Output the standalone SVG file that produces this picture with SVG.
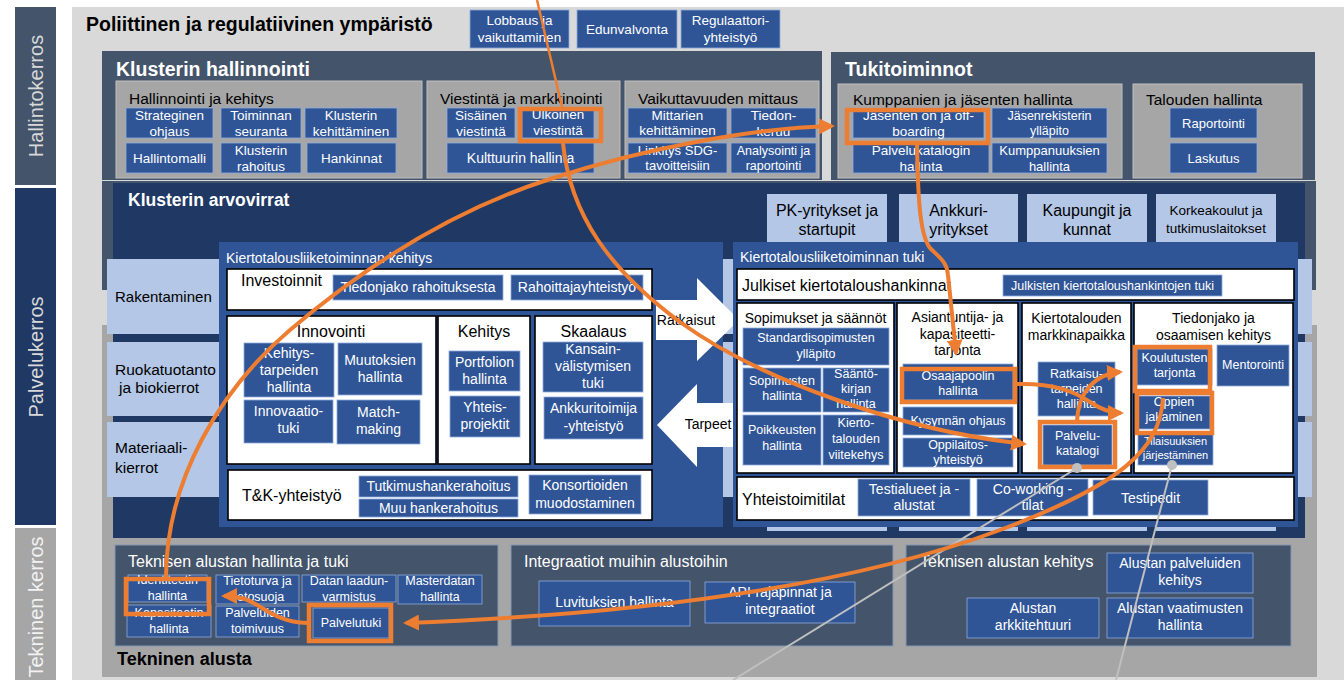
<svg xmlns="http://www.w3.org/2000/svg" width="1344" height="680" viewBox="0 0 1344 680">
<defs>
<style>
text{font-family:"Liberation Sans",Arial,Helvetica,sans-serif}
.w{fill:#fff}
.k{fill:#000}
.c{text-anchor:middle}
.b{font-weight:bold}
.slate{fill:#44546a}
.pan{fill:#44546a;stroke:#8497b0;stroke-width:1}
.sub{fill:#a6a6a6;stroke:#bfbfbf;stroke-width:1}
.bb{fill:#2f5597;stroke:#8faadc;stroke-width:0.8}
.wb{fill:#fff;stroke:#000;stroke-width:1.6}
.lb{fill:#b4c7e7}
.hl{fill:none;stroke:#ed7d31;stroke-width:4.5}
.oc{fill:none;stroke:#ed7d31;stroke-width:4;marker-end:url(#ah)}
.gc{fill:none;stroke:#bfbfbf;stroke-width:2}
.f11{font-size:11px}
.f125{font-size:12.5px}
.f13{font-size:13px}
.f135{font-size:13.5px}
.f14{font-size:14px}
.f15{font-size:15px}
.f155{font-size:15.5px}
.f16{font-size:16px}
</style>
<marker id="ah" viewBox="0 0 16 16" refX="13" refY="8" markerWidth="16" markerHeight="16" markerUnits="userSpaceOnUse" orient="auto"><path d="M0,0 L16,8 L0,16 Z" fill="#ed7d31"/></marker>
</defs>

<rect x="0" y="0" width="1344" height="680" fill="#fff"/>
<rect x="72" y="7" width="1272" height="673" fill="#d9d9d9"/>

<g id="layer-hallinto"><rect x="15" y="7" width="41" height="178" fill="#44546a"/><text transform="translate(43,96) rotate(-90)" class="c" font-size="20" fill="#d9d9d9">Hallintokerros</text></g>
<g id="layer-palvelu"><rect x="15" y="188" width="41" height="337" fill="#203864"/><text transform="translate(43,357) rotate(-90)" class="c" font-size="20" fill="#d9d9d9">Palvelukerros</text></g>
<g id="layer-tekninen"><rect x="15" y="528" width="41" height="152" fill="#a6a6a6"/><text transform="translate(43,607) rotate(-90)" class="c" font-size="20" fill="#f2f2f2">Tekninen kerros</text></g>

<g id="poliittinen">
<text x="86" y="31" class="k b" font-size="19.5">Poliittinen ja regulatiivinen ympäristö</text>
<g id="lobbaus"><rect x="470" y="10" width="99" height="38" class="bb"/><text class="w c f135"><tspan x="519.5" y="25">Lobbaus ja</tspan><tspan x="519.5" y="42">vaikuttaminen</tspan></text></g>
<g id="edunvalvonta"><rect x="577" y="10" width="100" height="38" class="bb"/><text class="w c f135" x="627" y="34">Edunvalvonta</text></g>
<g id="regulaattori"><rect x="681" y="10" width="99" height="38" class="bb"/><text class="w c f135"><tspan x="730.5" y="25">Regulaattori-</tspan><tspan x="730.5" y="42">yhteistyö</tspan></text></g>
</g>

<g id="klusterin-hallinnointi">
<rect x="102" y="51" width="720" height="129" class="slate"/>
<text x="116" y="76" class="w b" font-size="19.5">Klusterin hallinnointi</text>
<g id="hallinnointi-ja-kehitys">
<rect x="116" y="81" width="306" height="97" class="sub"/>
<text x="129" y="104" class="k f155">Hallinnointi ja kehitys</text>
<g id="strateginen"><rect x="126" y="108" width="87" height="30" class="bb"/><text class="w c f135"><tspan x="169.5" y="120">Strateginen</tspan><tspan x="169.5" y="136">ohjaus</tspan></text></g>
<g id="toiminnan"><rect x="221" y="108" width="80" height="30" class="bb"/><text class="w c f135"><tspan x="261" y="120">Toiminnan</tspan><tspan x="261" y="136">seuranta</tspan></text></g>
<g id="klusterin-kehittaminen"><rect x="305" y="108" width="92" height="30" class="bb"/><text class="w c f135"><tspan x="351" y="120">Klusterin</tspan><tspan x="351" y="136">kehittäminen</tspan></text></g>
<g id="hallintomalli"><rect x="126" y="143" width="87" height="30" class="bb"/><text class="w c f135" x="169.5" y="163">Hallintomalli</text></g>
<g id="klusterin-rahoitus"><rect x="221" y="143" width="80" height="30" class="bb"/><text class="w c f135"><tspan x="261" y="155">Klusterin</tspan><tspan x="261" y="171">rahoitus</tspan></text></g>
<g id="hankinnat"><rect x="307" y="143" width="89" height="30" class="bb"/><text class="w c f135" x="351.5" y="163">Hankinnat</text></g>
</g>
<g id="viestinta">
<rect x="427" y="81" width="193" height="97" class="sub"/>
<text x="440" y="104" class="k f155">Viestintä ja markkinointi</text>
<g id="sisainen"><rect x="447" y="108" width="68" height="30" class="bb"/><text class="w c f135"><tspan x="481" y="120">Sisäinen</tspan><tspan x="481" y="136">viestintä</tspan></text></g>
<g id="ulkoinen"><rect x="522" y="110" width="72" height="28" class="bb"/><text class="w c f135"><tspan x="558" y="119">Ulkoinen</tspan><tspan x="558" y="135">viestintä</tspan></text></g>
<g id="kulttuurin"><rect x="447" y="143" width="147" height="30" class="bb"/><text class="w c f14" x="520.5" y="163">Kulttuurin hallinta</text></g>
</g>
<g id="vaikuttavuus">
<rect x="625" y="81" width="194" height="97" class="sub"/>
<text x="638" y="104" class="k f155">Vaikuttavuuden mittaus</text>
<g id="mittarien"><rect x="628" y="108" width="99" height="30" class="bb"/><text class="w c f135"><tspan x="677.5" y="120">Mittarien</tspan><tspan x="677.5" y="135">kehittäminen</tspan></text></g>
<g id="tiedonkeruu"><rect x="731" y="108" width="85" height="30" class="bb"/><text class="w c f135"><tspan x="773.5" y="120">Tiedon-</tspan><tspan x="773.5" y="136">keruu</tspan></text></g>
<g id="linkitys"><rect x="628" y="143" width="99" height="30" class="bb"/><text class="w c f13"><tspan x="677.5" y="155">Linkitys SDG-</tspan><tspan x="677.5" y="170">tavoitteisiin</tspan></text></g>
<g id="analysointi"><rect x="731" y="143" width="85" height="30" class="bb"/><text class="w c f125"><tspan x="773.5" y="155">Analysointi ja</tspan><tspan x="773.5" y="170">raportointi</tspan></text></g>
</g>
</g>

<g id="tukitoiminnot">
<rect x="831" y="52" width="484" height="128" class="slate"/>
<text x="845" y="76" class="w b" font-size="19.5">Tukitoiminnot</text>
<g id="kumppanien">
<rect x="838" y="84" width="284" height="94" class="sub"/>
<text x="853" y="105" class="k f155">Kumppanien ja jäsenten hallinta</text>
<g id="jasenten"><rect x="853" y="108" width="131" height="30" class="bb"/><text class="w c f135"><tspan x="918.5" y="120">Jäsenten on ja off-</tspan><tspan x="918.5" y="136">boarding</tspan></text></g>
<g id="jasenrekisterin"><rect x="992" y="108" width="115" height="30" class="bb"/><text class="w c f125"><tspan x="1049.5" y="120">Jäsenrekisterin</tspan><tspan x="1049.5" y="135">ylläpito</tspan></text></g>
<g id="palvelukatalogin"><rect x="853" y="143" width="136" height="30" class="bb"/><text class="w c f135"><tspan x="921" y="155">Palvelukatalogin</tspan><tspan x="921" y="171">hallinta</tspan></text></g>
<g id="kumppanuuksien"><rect x="992" y="143" width="115" height="30" class="bb"/><text class="w c f13"><tspan x="1049.5" y="155">Kumppanuuksien</tspan><tspan x="1049.5" y="171">hallinta</tspan></text></g>
</g>
<g id="talouden">
<rect x="1133" y="84" width="169" height="94" class="sub"/>
<text x="1146" y="105" class="k f155">Talouden hallinta</text>
<g id="raportointi"><rect x="1170" y="108" width="87" height="30" class="bb"/><text class="w c f13" x="1213.5" y="128">Raportointi</text></g>
<g id="laskutus"><rect x="1170" y="143" width="87" height="30" class="bb"/><text class="w c f13" x="1213.5" y="163">Laskutus</text></g>
</g>
</g>

<rect x="102" y="181" width="1214" height="109" class="slate"/>
<g id="tekninen-alusta">
<rect x="102" y="325" width="1215" height="352" fill="#a6a6a6"/>
<text x="117" y="665" class="k b" font-size="18">Tekninen alusta</text>
</g>

<g id="klusterin-arvovirrat">
<rect x="113" y="183" width="1192" height="355" fill="#203864"/>
<text x="128" y="206" class="w b" font-size="17.5">Klusterin arvovirrat</text>
</g>

<g id="rakentaminen"><rect x="107" y="259" width="1205" height="75" class="lb"/><text x="115" y="302" class="k f15">Rakentaminen</text></g>
<g id="ruokatuotanto"><rect x="107" y="342" width="1205" height="74" class="lb"/><text class="k f155"><tspan x="115" y="375">Ruokatuotanto</tspan><tspan x="119" y="393">ja biokierrot</tspan></text></g>
<g id="materiaalikierrot"><rect x="107" y="422" width="1205" height="75" class="lb"/><text class="k f155"><tspan x="115" y="453">Materiaali-</tspan><tspan x="115" y="473">kierrot</tspan></text></g>

<g id="pk-yritykset"><rect x="767" y="194" width="120" height="337" class="lb"/><text class="k c f16"><tspan x="827" y="216">PK-yritykset ja</tspan><tspan x="827" y="235">startupit</tspan></text></g>
<g id="ankkuriyritykset"><rect x="899" y="194" width="119" height="337" class="lb"/><text class="k c f16"><tspan x="958.5" y="216">Ankkuri-</tspan><tspan x="958.5" y="235">yritykset</tspan></text></g>
<g id="kaupungit"><rect x="1027" y="194" width="120" height="337" class="lb"/><text class="k c f16"><tspan x="1087" y="216">Kaupungit ja</tspan><tspan x="1087" y="235">kunnat</tspan></text></g>
<g id="korkeakoulut"><rect x="1156" y="194" width="120" height="337" class="lb"/><text class="k c f135"><tspan x="1216" y="215">Korkeakoulut ja</tspan><tspan x="1216" y="233">tutkimuslaitokset</tspan></text></g>

<g id="kehitys-panel">
<rect x="219" y="242" width="504" height="285" fill="#2f5597"/>
<text x="226" y="263" class="w f14">Kiertotalousliiketoiminnan kehitys</text>
<g id="investoinnit">
<rect x="227" y="269" width="425" height="41" class="wb"/>
<text x="241" y="286" class="k f16">Investoinnit</text>
<g id="tiedonjako-rahoituksesta"><rect x="333" y="275" width="170" height="25" class="bb"/><text class="w c f14" x="418" y="292">Tiedonjako rahoituksesta</text></g>
<g id="rahoittajayhteistyo"><rect x="511" y="275" width="132" height="25" class="bb"/><text class="w c f14" x="577" y="292">Rahoittajayhteistyö</text></g>
</g>
<g id="innovointi">
<rect x="227" y="316" width="209" height="148" class="wb"/>
<text x="331" y="337" class="k c f16">Innovointi</text>
<g id="kehitystarpeiden"><rect x="244" y="343" width="90" height="54" class="bb"/><text class="w c f14"><tspan x="289" y="358">Kehitys-</tspan><tspan x="289" y="375">tarpeiden</tspan><tspan x="289" y="392">hallinta</tspan></text></g>
<g id="muutoksien"><rect x="338" y="343" width="84" height="52" class="bb"/><text class="w c f14"><tspan x="380" y="365">Muutoksien</tspan><tspan x="380" y="382">hallinta</tspan></text></g>
<g id="innovaatiotuki"><rect x="244" y="400" width="89" height="43" class="bb"/><text class="w c f14"><tspan x="288.5" y="416">Innovaatio-</tspan><tspan x="288.5" y="433">tuki</tspan></text></g>
<g id="matchmaking"><rect x="337" y="400" width="83" height="44" class="bb"/><text class="w c f14"><tspan x="378.5" y="417">Match-</tspan><tspan x="378.5" y="434">making</tspan></text></g>
</g>
<g id="kehitys">
<rect x="438" y="316" width="92" height="148" class="wb"/>
<text x="484" y="337" class="k c f16">Kehitys</text>
<g id="portfolion"><rect x="449" y="351" width="71" height="40" class="bb"/><text class="w c f14"><tspan x="484.5" y="367">Portfolion</tspan><tspan x="484.5" y="384">hallinta</tspan></text></g>
<g id="yhteisprojektit"><rect x="450" y="396" width="70" height="41" class="bb"/><text class="w c f14"><tspan x="485" y="412">Yhteis-</tspan><tspan x="485" y="429">projektit</tspan></text></g>
</g>
<g id="skaalaus">
<rect x="535" y="316" width="117" height="148" class="wb"/>
<text x="593.5" y="337" class="k c f16">Skaalaus</text>
<g id="kansainvalistymisen"><rect x="543" y="342" width="100" height="50" class="bb"/><text class="w c f14"><tspan x="593" y="354">Kansain-</tspan><tspan x="593" y="371">välistymisen</tspan><tspan x="593" y="388">tuki</tspan></text></g>
<g id="ankkuritoimija"><rect x="544" y="397" width="99" height="42" class="bb"/><text class="w c f14"><tspan x="593.5" y="413">Ankkuritoimija</tspan><tspan x="593.5" y="431">-yhteistyö</tspan></text></g>
</g>
<g id="tk-yhteistyo">
<rect x="228" y="470" width="424" height="50" class="wb"/>
<text x="242" y="501" class="k f16">T&amp;K-yhteistyö</text>
<g id="tutkimushankerahoitus"><rect x="359" y="476" width="159" height="21" class="bb"/><text class="w c f14" x="438.5" y="491">Tutkimushankerahoitus</text></g>
<g id="muu-hankerahoitus"><rect x="359" y="499" width="159" height="18" class="bb"/><text class="w c f14" x="438.5" y="513">Muu hankerahoitus</text></g>
<g id="konsortioiden"><rect x="529" y="475" width="112" height="39" class="bb"/><text class="w c f14"><tspan x="585" y="490">Konsortioiden</tspan><tspan x="585" y="508">muodostaminen</tspan></text></g>
</g>
</g>

<g id="ratkaisut"><polygon points="656,300 697,300 697,278 739,320 697,361 697,340 656,340" fill="#fff"/><text x="686" y="325" class="k c f14">Ratkaisut</text></g>
<g id="tarpeet"><polygon points="657,425 697,384 697,403 738,403 738,447 697,447 697,467" fill="#fff"/><text x="708" y="429" class="k c f14">Tarpeet</text></g>

<g id="tuki-panel">
<rect x="733" y="242" width="565" height="285" fill="#2f5597"/>
<text x="740" y="262" class="w f14">Kiertotalousliiketoiminnan tuki</text>
<g id="julkiset">
<rect x="737" y="269" width="557" height="31" class="wb"/>
<text x="742" y="291" class="k f16">Julkiset kiertotaloushankinnat</text>
<g id="julkisten-tuki"><rect x="1003" y="275" width="219" height="21" class="bb"/><text class="w c f125" x="1112.5" y="290">Julkisten kiertotaloushankintojen tuki</text></g>
</g>
<g id="sopimukset">
<rect x="737" y="303" width="157" height="170" class="wb"/>
<text x="815.5" y="323" class="k c f14">Sopimukset ja säännöt</text>
<g id="standardisopimusten"><rect x="743" y="328" width="146" height="37" class="bb"/><text class="w c f125"><tspan x="816" y="342">Standardisopimusten</tspan><tspan x="816" y="358">ylläpito</tspan></text></g>
<g id="sopimusten-hallinta"><rect x="743" y="368" width="78" height="44" class="bb"/><text class="w c f125"><tspan x="782" y="385">Sopimusten</tspan><tspan x="782" y="400">hallinta</tspan></text></g>
<g id="saantokirjan"><rect x="823" y="368" width="66" height="44" class="bb"/><text class="w c f125"><tspan x="856" y="378">Sääntö-</tspan><tspan x="856" y="393">kirjan</tspan><tspan x="856" y="408">hallinta</tspan></text></g>
<g id="poikkeusten"><rect x="743" y="415" width="78" height="50" class="bb"/><text class="w c f125"><tspan x="782" y="434">Poikkeusten</tspan><tspan x="782" y="450">hallinta</tspan></text></g>
<g id="kiertotalouden-viitekehys"><rect x="823" y="415" width="66" height="50" class="bb"/><text class="w c f125"><tspan x="856" y="427">Kierto-</tspan><tspan x="856" y="443">talouden</tspan><tspan x="856" y="459">viitekehys</tspan></text></g>
</g>
<g id="asiantuntija">
<rect x="897" y="303" width="121" height="170" class="wb"/>
<text class="k c f14"><tspan x="957.5" y="322">Asiantuntija- ja</tspan><tspan x="957.5" y="338.5">kapasiteetti-</tspan><tspan x="957.5" y="355">tarjonta</tspan></text>
<g id="osaajapoolin"><rect x="903" y="364" width="110" height="36" class="bb"/><text class="w c f125"><tspan x="958" y="380">Osaajapoolin</tspan><tspan x="958" y="395">hallinta</tspan></text></g>
<g id="kysynnan"><rect x="903" y="407" width="110" height="28" class="bb"/><text class="w c f125" x="958" y="425">Kysynnän ohjaus</text></g>
<g id="oppilaitos"><rect x="903" y="438" width="110" height="29" class="bb"/><text class="w c f125"><tspan x="958" y="449">Oppilaitos-</tspan><tspan x="958" y="464">yhteistyö</tspan></text></g>
</g>
<g id="markkinapaikka">
<rect x="1022" y="303" width="109" height="170" class="wb"/>
<text class="k c f14"><tspan x="1076.5" y="323">Kiertotalouden</tspan><tspan x="1076.5" y="340">markkinapaikka</tspan></text>
<g id="ratkaisutarpeiden"><rect x="1038" y="362" width="77" height="54" class="bb"/><text class="w c f125"><tspan x="1076.5" y="378">Ratkaisu-</tspan><tspan x="1076.5" y="393">tarpeiden</tspan><tspan x="1076.5" y="408">hallinta</tspan></text></g>
<g id="palvelukatalogi"><rect x="1043" y="425" width="69" height="40" class="bb"/><text class="w c f125"><tspan x="1077.5" y="440">Palvelu-</tspan><tspan x="1077.5" y="455">katalogi</tspan></text></g>
</g>
<g id="tiedonjako">
<rect x="1134" y="303" width="159" height="170" class="wb"/>
<text class="k c f14"><tspan x="1213.5" y="323">Tiedonjako ja</tspan><tspan x="1213.5" y="340">osaamisen kehitys</tspan></text>
<g id="koulutusten"><rect x="1137" y="349" width="75" height="36" class="bb"/><text class="w c f125"><tspan x="1174.5" y="362">Koulutusten</tspan><tspan x="1174.5" y="377">tarjonta</tspan></text></g>
<g id="mentorointi"><rect x="1217" y="345" width="72" height="41" class="bb"/><text class="w c f125" x="1253" y="369">Mentorointi</text></g>
<g id="oppien"><rect x="1138" y="396" width="72" height="33" class="bb"/><text class="w c f125"><tspan x="1174" y="406">Oppien</tspan><tspan x="1174" y="421">jakaminen</tspan></text></g>
<g id="tilaisuuksien"><rect x="1138" y="432" width="75" height="33" class="bb"/><text class="w c f11"><tspan x="1175.5" y="445">Tilaisuuksien</tspan><tspan x="1175.5" y="459">järjestäminen</tspan></text></g>
</g>
<g id="yhteistoimitilat">
<rect x="737" y="477" width="557" height="43" class="wb"/>
<text x="742" y="505" class="k f16">Yhteistoimitilat</text>
<g id="testialueet"><rect x="858" y="479" width="112" height="37" class="bb"/><text class="w c f14"><tspan x="914" y="494">Testialueet ja -</tspan><tspan x="914" y="510">alustat</tspan></text></g>
<g id="coworking"><rect x="977" y="479" width="111" height="37" class="bb"/><text class="w c f14"><tspan x="1032.5" y="494">Co-working -</tspan><tspan x="1032.5" y="510">tilat</tspan></text></g>
<g id="testipedit"><rect x="1093" y="480" width="115" height="35" class="bb"/><text class="w c f14" x="1150.5" y="503">Testipedit</text></g>
</g>
</g>

<g id="alustan-hallinta">
<rect x="115" y="545" width="383" height="101" class="pan"/>
<text x="128" y="567" class="w f16">Teknisen alustan hallinta ja tuki</text>
<g id="identiteetin"><rect x="128" y="575" width="79" height="27" class="bb"/><text class="w c f125"><tspan x="167.5" y="584">Identiteetin</tspan><tspan x="167.5" y="600">hallinta</tspan></text></g>
<g id="kapasiteetin"><rect x="127" y="605" width="84" height="32" class="bb"/><text class="w c f125"><tspan x="169" y="617">Kapasiteetin</tspan><tspan x="169" y="633">hallinta</tspan></text></g>
<g id="tietoturva"><rect x="216" y="575" width="83" height="29" class="bb"/><text class="w c f125"><tspan x="257.5" y="585">Tietoturva ja</tspan><tspan x="257.5" y="601">tietosuoja</tspan></text></g>
<g id="palveluiden-toimivuus"><rect x="216" y="606" width="83" height="31" class="bb"/><text class="w c f125"><tspan x="257.5" y="617">Palveluiden</tspan><tspan x="257.5" y="633">toimivuus</tspan></text></g>
<g id="datan"><rect x="302" y="575" width="94" height="27" class="bb"/><text class="w c f125"><tspan x="349" y="585">Datan laadun-</tspan><tspan x="349" y="601">varmistus</tspan></text></g>
<g id="masterdatan"><rect x="398" y="575" width="84" height="29" class="bb"/><text class="w c f125"><tspan x="440" y="585">Masterdatan</tspan><tspan x="440" y="601">hallinta</tspan></text></g>
<g id="palvelutuki"><rect x="313" y="608" width="76" height="30" class="bb"/><text class="w c f125" x="351" y="627">Palvelutuki</text></g>
</g>
<g id="integraatiot">
<rect x="511" y="545" width="382" height="101" class="pan"/>
<text x="524" y="567" class="w f16">Integraatiot muihin alustoihin</text>
<g id="luvituksien"><rect x="539" y="581" width="151" height="45" class="bb"/><text class="w c f14" x="614.5" y="607">Luvituksien hallinta</text></g>
<g id="api"><rect x="705" y="582" width="150" height="41" class="bb"/><text class="w c f14"><tspan x="780" y="597">API-rajapinnat ja</tspan><tspan x="780" y="614">integraatiot</tspan></text></g>
</g>
<g id="alustan-kehitys">
<rect x="906" y="545" width="385" height="101" class="pan"/>
<text x="920" y="567" class="w f16">Teknisen alustan kehitys</text>
<g id="alustan-palveluiden"><rect x="1107" y="553" width="146" height="40" class="bb"/><text class="w c f14"><tspan x="1180" y="568">Alustan palveluiden</tspan><tspan x="1180" y="585">kehitys</tspan></text></g>
<g id="alustan-arkkitehtuuri"><rect x="967" y="598" width="132" height="40" class="bb"/><text class="w c f14"><tspan x="1033" y="613">Alustan</tspan><tspan x="1033" y="630">arkkitehtuuri</tspan></text></g>
<g id="alustan-vaatimusten"><rect x="1107" y="598" width="146" height="40" class="bb"/><text class="w c f14"><tspan x="1180" y="613">Alustan vaatimusten</tspan><tspan x="1180" y="630">hallinta</tspan></text></g>
</g>

<g id="highlights">
<rect x="520" y="109" width="81" height="32" class="hl"/>
<rect x="847" y="110" width="141" height="33" class="hl"/>
<rect x="902" y="369" width="113" height="33" class="hl"/>
<rect x="1040" y="422" width="75" height="45" class="hl"/>
<rect x="1135" y="347" width="75" height="44" class="hl"/>
<rect x="1137" y="393" width="75" height="40" class="hl"/>
<rect x="126" y="579" width="83" height="35" class="hl"/>
<rect x="309" y="605" width="82" height="36" class="hl"/>
</g>

<g id="connectors">
<circle cx="1077" cy="468" r="5" fill="#bfbfbf"/>
<path d="M1077,468 L733,680" class="gc"/>
<circle cx="1172" cy="465" r="5" fill="#bfbfbf"/>
<path d="M1172,465 L1116,680" class="gc"/>
<path d="M537,0 L562,107" fill="none" stroke="#ed7d31" stroke-width="2.5"/>
<path d="M563,143 C570,215 610,270 680,322 C760,380 900,430 1024,444" class="oc"/>
<path d="M917,145 C918,200 920,235 930,248 C940,258 947,262 948,275 L956,353" class="oc" stroke-width="3.5"/>
<path d="M166,578 C166,480 220,390 290,330 C350,279 440,215 547,180 C650,146 760,128 832,126" class="oc"/>
<path d="M1017,384 C1055,383 1075,392 1090,402 C1102,410 1112,413 1121,413" class="oc"/>
<path d="M1077,422 C1078,392 1095,374 1120,372" class="oc"/>
<path d="M1163,398 C1160,450 1120,485 1000,530 C880,575 700,612 406,623" class="oc"/>
<path d="M307,623 C275,622 262,605 245,599 C238,597 232,596 224,596" class="oc"/>
</g>
</svg>
